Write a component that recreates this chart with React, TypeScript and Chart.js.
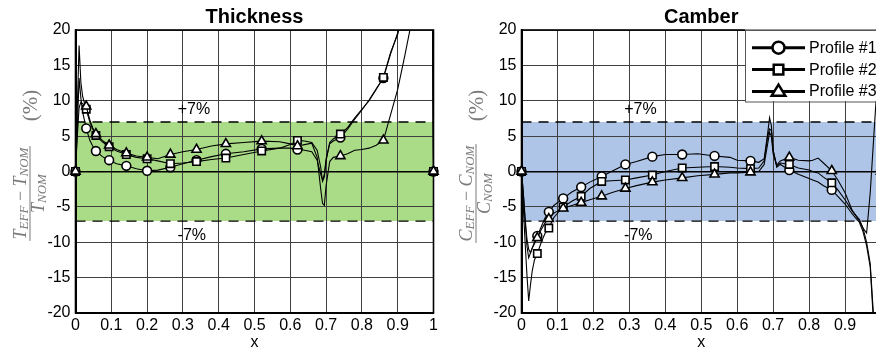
import React, { useEffect, useRef } from 'react';
import { Chart, registerables } from 'chart.js';

Chart.register(...registerables);

// ---------- data ----------
const X_TICK_LABELS = ['0', '0.1', '0.2', '0.3', '0.4', '0.5', '0.6', '0.7', '0.8', '0.9', '1'];
const X_MIN = 0;
const X_MAX = 1;
const X_STEP = 0.1;
const Y_MIN = -20;
const Y_MAX = 20;
const Y_STEP = 5;

const PROFILE_LABELS = ['Profile #1', 'Profile #2', 'Profile #3'];
const PROFILE_SHAPES = ['circle', 'rect', 'triangle'];

const BAND = [-7, 7];
const BAND_TEXTS = ['+7%', '-7%'];
const BAND_TEXT_X = [0.331, 0.325];
const BAND_TEXT_Y = [8.7, -9.0];

const THICK_X = [0, 0.005, 0.01, 0.015, 0.02, 0.03, 0.04, 0.048, 0.057, 0.075, 0.094, 0.115, 0.142, 0.17, 0.2, 0.23, 0.265, 0.3, 0.338, 0.38, 0.42, 0.47, 0.52, 0.57, 0.6, 0.62, 0.64, 0.66, 0.675, 0.685, 0.69, 0.695, 0.7, 0.71, 0.72, 0.74, 0.76, 0.78, 0.8, 0.82, 0.84, 0.86, 0.88, 0.9, 0.92, 0.94, 0.96, 0.98, 0.99, 1.0];
const THICK_P1 = [0, 6.0, 13.2, 10.4, 8.4, 6.1, 4.4, 3.6, 2.9, 2.1, 1.6, 1.1, 0.8, 0.4, 0.1, 0.2, 0.6, 1.1, 1.6, 2.1, 2.5, 2.8, 3.2, 3.3, 3.3, 3.1, 3.0, 2.8, 1.6, -0.4, -1.2, -0.4, 1.8, 3.9, 4.3, 4.8, 6.0, 7.4, 8.7, 10.1, 11.7, 13.2, 16.6, 19.6, 24, 30, 37, 48, 80, 0];
const THICK_P2 = [0, 9.0, 17.8, 12.6, 10.6, 8.8, 7.0, 6.0, 5.1, 4.2, 3.5, 2.9, 2.4, 2.0, 1.8, 1.5, 1.1, 1.2, 1.4, 1.7, 1.9, 2.4, 2.9, 3.3, 3.8, 4.4, 4.3, 4.1, 3.0, 0.6, -1.4, -0.8, 1.5, 4.1, 4.6, 5.3, 6.2, 7.6, 8.8, 10.0, 11.6, 13.3, 16.8, 19.4, 24, 30, 37, 48, 80, 0];
const THICK_P3 = [0, 5.0, 9.0, 9.8, 9.6, 9.2, 7.3, 6.2, 5.3, 4.4, 3.7, 3.1, 2.6, 2.2, 2.0, 1.8, 2.4, 2.8, 3.1, 3.6, 3.9, 4.1, 4.3, 4.2, 3.9, 3.6, 3.8, 4.0, 2.0, -2.5, -4.5, -4.8, -2.0, 1.4, 2.0, 2.2, 2.5, 3.0, 3.1, 3.3, 3.7, 4.4, 8.0, 11.6, 16.4, 21.5, 30, 42, 80, 0];
const THICK_MARK_X = [0, 0.03, 0.057, 0.094, 0.142, 0.2, 0.265, 0.338, 0.42, 0.52, 0.62, 0.74, 0.86, 1.0];

const CAMBER_X = [0, 0.005, 0.01, 0.015, 0.02, 0.025, 0.03, 0.036, 0.044, 0.055, 0.065, 0.076, 0.09, 0.1, 0.116, 0.14, 0.166, 0.19, 0.223, 0.25, 0.289, 0.32, 0.364, 0.4, 0.447, 0.49, 0.537, 0.58, 0.6, 0.637, 0.66, 0.675, 0.685, 0.69, 0.695, 0.7, 0.71, 0.72, 0.745, 0.77, 0.8, 0.81, 0.825, 0.84, 0.863, 0.88, 0.9, 0.92, 0.94, 0.95, 0.96, 0.97, 0.98, 0.99, 1.0];
const CAMBER_P1 = [0, -3, -7, -10.5, -12.2, -11.5, -10.8, -10.0, -9.1, -7.8, -6.6, -5.7, -4.8, -4.4, -3.8, -2.9, -2.2, -1.5, -0.7, 0.0, 1.0, 1.4, 2.1, 2.4, 2.4, 2.5, 2.2, 2.0, 1.6, 1.5, 1.3, 1.8, 5.5, 7.6, 6.5, 3.0, 0.6, 1.0, 0.2, -0.4, -1.0, -1.2, -1.5, -2.0, -2.6, -3.5, -4.6, -6.0, -7.2, -8.5, -10.5, -13.5, -22, -40, 0];
const CAMBER_P2 = [0, -5, -10, -14.5, -18.3, -16.0, -14.0, -12.5, -11.6, -10.0, -8.8, -8.0, -6.5, -5.9, -5.0, -4.2, -3.5, -2.4, -1.4, -1.3, -1.2, -0.9, -0.5, 0.0, 0.5, 0.6, 0.7, 0.6, 0.5, 0.4, 0.5, 1.5, 5.0, 6.0, 5.8, 3.0, 0.8, 1.2, 1.0, 0.5, 0.2, 0.0, -0.2, -0.8, -1.6, -2.6, -4.0, -5.6, -6.8, -8.0, -10.0, -13.0, -21, -40, 0];
const CAMBER_P3 = [0, -3, -6.5, -9.5, -11.0, -11.5, -10.8, -10.2, -9.4, -8.2, -7.3, -6.7, -5.9, -5.6, -5.2, -4.8, -4.4, -4.0, -3.5, -3.0, -2.4, -2.0, -1.5, -1.2, -0.9, -0.6, -0.4, -0.2, -0.2, -0.1, 0.0, 1.0, 4.0, 5.5, 5.0, 2.5, 0.9, 1.5, 2.0, 1.6, 1.5, 1.6, 1.9, 1.2, 0.1, -1.2, -3.0, -5.5, -7.0, -8.0, -8.7, -3.0, 5.0, 13.0, 0];
const CAMBER_MARK_X = [0, 0.044, 0.076, 0.116, 0.166, 0.223, 0.289, 0.364, 0.447, 0.537, 0.637, 0.745, 0.863, 1.0];

// ---------- styling ----------
const SANS = '"Liberation Sans", Arial, Helvetica, sans-serif';
const SERIF = '"Liberation Serif", "Times New Roman", serif';
const GRID = '#404040';
const MARK_RADII = [4.4, 5.2, 5.3];

type PanelProps = {
  title: string;
  xs: number[];
  series: number[][];
  markX: number[];
  bandColor: string;
  letter: string;
  legend: boolean;
  left: number;
  padRight: number;
};

function drawYLabel(ctx: CanvasRenderingContext2D, area: any, letter: string) {
  const gray = '#7a7a7a';
  const barX = area.left - 45.5;
  const cy = (area.top + area.bottom) / 2;
  ctx.save();
  ctx.translate(barX, cy);
  ctx.rotate(-Math.PI / 2);
  ctx.fillStyle = gray;
  const fBig = 'italic 18px ' + SERIF;
  const fSub = 'italic 13px ' + SERIF;
  const fUp = '18px ' + SERIF;
  const num: [string, string, number][] = [
    [letter, fBig, 0],
    ['EFF', fSub, 2.5],
    [' \u2212 ', fUp, 0],
    [letter, fBig, 0],
    ['NOM', fSub, 2.5],
  ];
  const den: [string, string, number][] = [
    [letter, fBig, 0],
    ['NOM', fSub, 2.5],
  ];
  const fracC = -22;
  const measure = (segs: [string, string, number][]) =>
    segs.reduce((w, s) => {
      ctx.font = s[1];
      return w + ctx.measureText(s[0]).width;
    }, 0);
  const drawSegs = (segs: [string, string, number][], baseY: number) => {
    const w = measure(segs);
    let x = fracC - w / 2;
    ctx.textAlign = 'left';
    ctx.textBaseline = 'alphabetic';
    for (const s of segs) {
      ctx.font = s[1];
      ctx.fillText(s[0], x, baseY + s[2]);
      x += ctx.measureText(s[0]).width;
    }
    return w;
  };
  const wn = drawSegs(num, -4.5);
  drawSegs(den, 13.5);
  const bw = wn + 3;
  ctx.fillRect(fracC - bw / 2, -0.5, bw, 1);
  ctx.font = '21px ' + SERIF;
  ctx.textAlign = 'center';
  ctx.textBaseline = 'middle';
  ctx.fillText('(%)', 66, 1.5);
  ctx.restore();
}

function drawShape(ctx: CanvasRenderingContext2D, shape: string, x: number, y: number, r: number) {
  ctx.beginPath();
  if (shape === 'circle') {
    ctx.arc(x, y, r, 0, Math.PI * 2);
  } else if (shape === 'rect') {
    ctx.rect(x - r, y - r, 2 * r, 2 * r);
  } else {
    const h = r * 1.7;
    ctx.moveTo(x, y - h * 0.62);
    ctx.lineTo(x + r * 1.05, y + h * 0.38);
    ctx.lineTo(x - r * 1.05, y + h * 0.38);
    ctx.closePath();
  }
  ctx.fill();
  ctx.stroke();
}

function drawLegend(ctx: CanvasRenderingContext2D, area: any) {
  const bx = area.right - 136;
  const by = area.top - 0.5;
  const bw = 170;
  const bh = 71.5;
  ctx.save();
  ctx.fillStyle = '#fff';
  ctx.fillRect(bx, by, bw, bh);
  ctx.strokeStyle = '#555';
  ctx.lineWidth = 1;
  ctx.strokeRect(Math.round(bx) + 0.5, Math.round(by) + 0.5, bw, bh);
  PROFILE_LABELS.forEach((label, k) => {
    const y = by + 18.2 + k * 21.9;
    ctx.strokeStyle = '#000';
    ctx.lineWidth = 3;
    ctx.beginPath();
    ctx.moveTo(bx + 7, y);
    ctx.lineTo(bx + 60, y);
    ctx.stroke();
    ctx.fillStyle = '#fff';
    ctx.lineWidth = 2.5;
    const r = PROFILE_SHAPES[k] === 'circle' ? 6 : PROFILE_SHAPES[k] === 'rect' ? 4.8 : 6.5;
    drawShape(ctx, PROFILE_SHAPES[k], bx + 33.5, y, r);
    ctx.fillStyle = '#000';
    ctx.font = '16px ' + SANS;
    ctx.textAlign = 'left';
    ctx.textBaseline = 'middle';
    ctx.fillText(label, bx + 64, y + 0.5);
  });
  ctx.restore();
}

function Panel(props: PanelProps) {
  const ref = useRef<HTMLCanvasElement>(null);
  useEffect(() => {
    const { xs, series, markX } = props;
    const markIdx = markX.map((mx) => xs.indexOf(mx));
    const datasets: any[] = [];
    datasets.push({
      data: [{ x: X_MIN, y: BAND[1] }, { x: X_MAX, y: BAND[1] }],
      borderColor: '#000',
      borderWidth: 1.3,
      borderDash: [10, 7],
      pointRadius: 0,
      fill: { value: BAND[0] },
      backgroundColor: props.bandColor,
      order: 30,
    });
    datasets.push({
      data: [{ x: X_MIN, y: BAND[0] }, { x: X_MAX, y: BAND[0] }],
      borderColor: '#000',
      borderWidth: 1.3,
      borderDash: [10, 7],
      pointRadius: 0,
      fill: false,
      order: 29,
    });
    series.forEach((ys, k) => {
      datasets.push({
        label: PROFILE_LABELS[k],
        data: xs.map((x, i) => ({ x, y: ys[i] })),
        borderColor: '#000',
        borderWidth: 1.1,
        pointRadius: 0,
        fill: false,
        tension: 0,
        order: 20 - 2 * k,
      });
      datasets.push({
        data: markIdx.map((i) => ({ x: xs[i], y: ys[i] })),
        showLine: false,
        pointStyle: PROFILE_SHAPES[k],
        pointRadius: MARK_RADII[k],
        pointBackgroundColor: '#fff',
        pointBorderColor: '#000',
        pointBorderWidth: 1.6,
        clip: false,
        order: 19 - 2 * k,
      });
    });

    const decor = {
      id: 'decor',
      beforeDatasetsDraw(chart: any) {
        const { ctx, chartArea: a } = chart;
        ctx.save();
        ctx.strokeStyle = '#000';
        ctx.lineWidth = 1.6;
        ctx.strokeRect(a.left, a.top, a.right - a.left, a.bottom - a.top);
        ctx.restore();
      },
      afterDatasetsDraw(chart: any) {
        const { ctx } = chart;
        const xs2 = chart.scales.x;
        const ys2 = chart.scales.y;
        ctx.save();
        ctx.fillStyle = '#000';
        ctx.font = '16px ' + SANS;
        ctx.textAlign = 'center';
        ctx.textBaseline = 'middle';
        BAND_TEXTS.forEach((t, i) => {
          ctx.fillText(t, xs2.getPixelForValue(BAND_TEXT_X[i]), ys2.getPixelForValue(BAND_TEXT_Y[i]));
        });
        ctx.restore();
      },
      afterDraw(chart: any) {
        drawYLabel(chart.ctx, chart.chartArea, props.letter);
        if (props.legend) drawLegend(chart.ctx, chart.chartArea);
      },
    };

    const tickFont = { family: SANS, size: 16 };
    const chart = new Chart(ref.current as HTMLCanvasElement, {
      type: 'line',
      data: { datasets },
      plugins: [decor],
      options: {
        animation: false,
        responsive: false,
        events: [],
        layout: { padding: { left: 0, right: props.padRight, top: 0, bottom: 0 } },
        plugins: {
          legend: { display: false },
          tooltip: { enabled: false },
          filler: { drawTime: 'beforeDraw' },
          title: {
            display: true,
            text: props.title,
            fullSize: false,
            color: '#000',
            font: { family: SANS, size: 20, weight: 'bold', lineHeight: 1 },
            padding: { top: 7, bottom: 3 },
          },
        },
        scales: {
          x: {
            type: 'linear',
            min: X_MIN,
            max: X_MAX,
            afterFit: (s: any) => {
              s.height = 34;
            },
            ticks: {
              stepSize: X_STEP,
              autoSkip: false,
              maxRotation: 0,
              padding: 3,
              color: '#000',
              font: tickFont,
              callback: (_v: any, i: number) => X_TICK_LABELS[i],
            },
            grid: { color: GRID, lineWidth: 1, drawTicks: false },
            border: { color: '#000', width: 2 },
            title: {
              display: true,
              text: 'x',
              color: '#000',
              font: { family: SANS, size: 16, lineHeight: 1 },
              padding: { top: 0, bottom: -4 },
            },
          },
          y: {
            type: 'linear',
            min: Y_MIN,
            max: Y_MAX,
            afterFit: (s: any) => {
              s.width = 75.5;
            },
            ticks: {
              stepSize: Y_STEP,
              padding: 5,
              color: '#000',
              font: tickFont,
              callback: (v: any) => String(v),
            },
            grid: {
              color: (c: any) => (c.tick && c.tick.value === 0 ? '#000' : GRID),
              lineWidth: (c: any) => (c.tick && c.tick.value === 0 ? 1.6 : 1),
              drawTicks: false,
            },
            border: { color: '#000', width: 2 },
          },
        },
      } as any,
    });
    return () => chart.destroy();
  }, []);
  return (
    <canvas
      ref={ref}
      width={446}
      height={347}
      style={{ position: 'absolute', left: props.left, top: 0, width: 446, height: 347 }}
    />
  );
}

export default function App() {
  return (
    <div
      style={{
        position: 'fixed',
        left: 0,
        top: 0,
        width: 876,
        height: 347,
        overflow: 'hidden',
        background: '#fff',
      }}
    >
      <Panel
        title="Thickness"
        xs={THICK_X}
        series={[THICK_P1, THICK_P2, THICK_P3]}
        markX={THICK_MARK_X}
        bandColor="#aadc88"
        letter="T"
        legend={false}
        left={0}
        padRight={12.5}
      />
      <Panel
        title="Camber"
        xs={CAMBER_X}
        series={[CAMBER_P1, CAMBER_P2, CAMBER_P3]}
        markX={CAMBER_MARK_X}
        bandColor="#aec5e8"
        letter="C"
        legend={true}
        left={446}
        padRight={11}
      />
    </div>
  );
}
